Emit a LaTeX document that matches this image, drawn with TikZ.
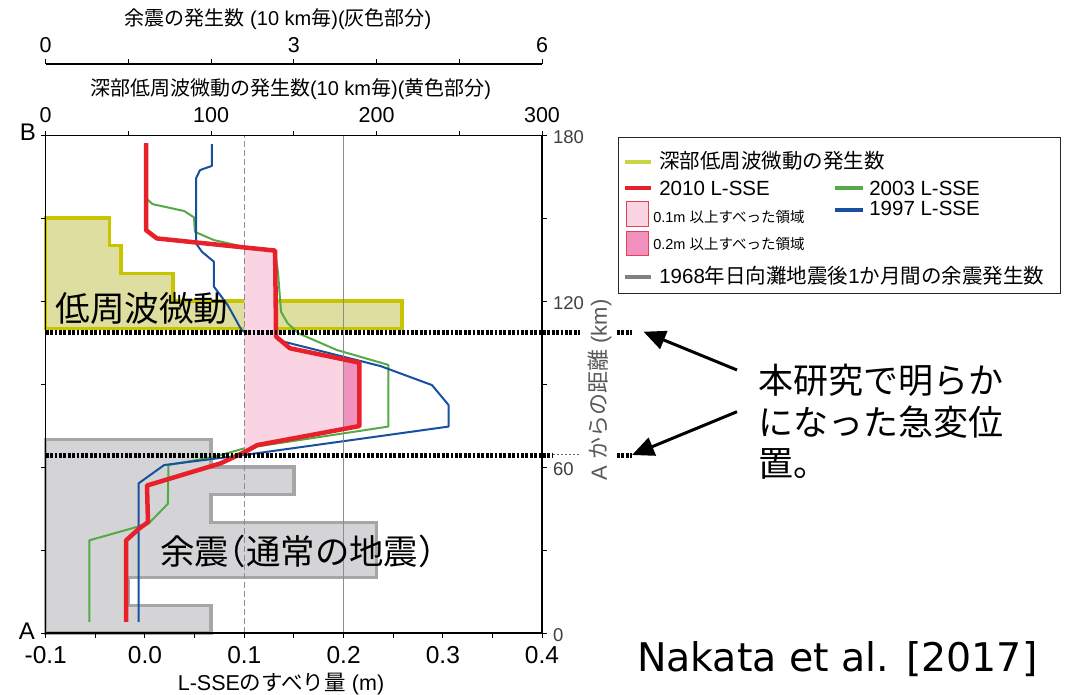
\documentclass[tikz,border=0pt]{standalone}
\usepackage{fontspec}
\setmainfont{Liberation Sans}
\newfontfamily\jp{Noto Sans CJK JP}
\newfontfamily\jph{Noto Sans CJK JP}[RawFeature=+halt]
\newfontfamily\dv{DejaVu Sans}
\usetikzlibrary{arrows.meta}
\newcommand\fsz[1]{\fontsize{#1}{#1}\selectfont}
\definecolor{cred}{HTML}{E8202A}
\definecolor{cgreen}{HTML}{55AA48}
\definecolor{cblue}{HTML}{1850A0}
\definecolor{yfillc}{HTML}{DEDEA0}
\definecolor{yedge}{HTML}{C8C400}
\definecolor{gfillc}{HTML}{D4D4D6}
\definecolor{gedge}{HTML}{A6A6A8}
\definecolor{pinkl}{HTML}{FBD4E4}
\definecolor{pinkd}{HTML}{F192BE}
\definecolor{legy}{HTML}{C8D646}
\definecolor{gridc}{HTML}{8C8C8C}
\definecolor{legred}{HTML}{E84050}
\begin{document}
\begin{tikzpicture}[x=1pt,y=-1pt,
  every node/.style={inner sep=0pt, outer sep=0pt},
  yhist/.style={fill=yfillc, draw=yedge, line width=3.5pt},
  ghist/.style={fill=gfillc, draw=gedge, line width=3.5pt},
  redl/.style={draw=cred, line width=4.5pt, line join=round},
  greenl/.style={draw=cgreen, line width=2pt, line join=round},
  bluel/.style={draw=cblue, line width=2pt, line join=round},
  gridd/.style={draw=gridc, line width=1pt, dash pattern=on 6pt off 3pt},
  grids/.style={draw=gridc, line width=1pt},
  blackdots/.style={draw=black, line width=4.5pt, dash pattern=on 2.8pt off 1.6pt},
  tickm/.style={draw=black, line width=1pt},
  frame/.style={draw=black, line width=1.5pt},
  axl/.style={font=\fsz{21.5}},
  botl/.style={font=\fsz{24.5}},
  rgtl/.style={font=\fsz{18.5}, text=black!75},
  ttl/.style={font=\fsz{20}},
  legt/.style={font=\fsz{20.5}, anchor=base west},
  legs/.style={font=\fsz{14.5}, anchor=base west},
  bigjp/.style={font=\jp\fsz{35}, anchor=base west},
  arr/.style={draw=black, line width=3pt, -{Triangle[length=22pt,width=19pt]}}
]
\useasboundingbox (0,0) rectangle (1068,695);
\fill[white] (0,0) rectangle (1068,695);

% ---------- data region ----------
\begin{scope}[shift={(145,633)},x=993pt,y=2.767pt]
  % yellow histogram (deep low-frequency tremor)
  \filldraw[yhist] (-0.1,150) -- (-0.036,150) -- (-0.036,140) -- (-0.024,140) -- (-0.024,130)
    -- (0.028,130) -- (0.028,120) -- (0.259,120) -- (0.259,110) -- (-0.1,110) -- cycle;
  % gray histogram (aftershocks)
  \filldraw[ghist] (-0.1,0) -- (0.0667,0) -- (0.0667,10) -- (-0.0167,10) -- (-0.0167,20)
    -- (0.2333,20) -- (0.2333,40) -- (0.0667,40) -- (0.0667,50) -- (0.15,50) -- (0.15,60)
    -- (0.0667,60) -- (0.0667,70) -- (-0.1,70) -- cycle;
  % 2003 L-SSE
  \draw[greenl] (0.0024,156.7) -- (0.0076,155) -- (0.0395,152.5) -- (0.0494,150.2) -- (0.0502,145)
    -- (0.0693,142) -- (0.0992,139.6) -- (0.131,138.5) -- (0.134,130) -- (0.137,116.1)
    -- (0.1435,112) -- (0.1546,108.3) -- (0.193,102.3) -- (0.245,96.9) -- (0.245,74.6)
    -- (0.0997,66.7) -- (0.070,63.7) -- (0.0236,60.7) -- (0.023,46.7) -- (0.0035,39.5)
    -- (-0.056,33.5) -- (-0.056,4);
  % 1997 L-SSE
  \draw[bluel] (0.0673,176.7) -- (0.0673,168.8) -- (0.0554,167.3) -- (0.0514,164.3) -- (0.0514,140.8)
    -- (0.0573,137.8) -- (0.0693,134.2) -- (0.0693,125.2) -- (0.0833,118.5) -- (0.0972,109.5)
    -- (0.0996,108.9) -- (0.2369,96.5) -- (0.289,89.6) -- (0.3057,82.4) -- (0.3057,74.6)
    -- (0.0992,64.3) -- (0.0193,60.7) -- (-0.0064,54.1) -- (-0.0064,4);
  % slip areas
  \fill[pinkl] (0.1,139.35) -- (0.131,138.2) -- (0.132,107.1) -- (0.146,102.9) -- (0.216,97.7)
    -- (0.216,74.8) -- (0.113,67.9) -- (0.101,65.5) -- (0.1,65.3) -- cycle;
  \fill[pinkd] (0.2,98.89) -- (0.216,97.7) -- (0.216,74.8) -- (0.2,73.73) -- cycle;
  % reference lines
  \draw[gridd] (0.1,0) -- (0.1,180);
  \draw[grids] (0.2,0) -- (0.2,180);
  % 2010 L-SSE
  \draw[redl] (0.001,177) -- (0.001,145.6) -- (0.012,142.6) -- (0.131,138.2) -- (0.132,107.1)
    -- (0.146,102.9) -- (0.216,97.7) -- (0.216,74.8) -- (0.113,67.9) -- (0.101,65.5)
    -- (0.076,61.3) -- (0.002,53.3) -- (0.003,40.1) -- (-0.006,37.7) -- (-0.019,33.5) -- (-0.019,4);
\end{scope}

% ---------- heavy dotted markers ----------
\draw[blackdots] (45.7,332.7) -- (580,332.7);
\draw[blackdots] (617,332.7) -- (632,332.7);
\draw[blackdots] (45.7,455.7) -- (553,455.7);
\draw[draw=black!60, line width=0.8pt, dash pattern=on 2pt off 2pt] (553,454) -- (580,454);
\draw[blackdots] (617,455.7) -- (632,455.7);

% ---------- frame and axes ----------
\draw[frame] (45.7,135.5) rectangle (542,633);
\draw[frame] (45.7,64) -- (542,64);
\foreach \i in {0,...,6} {
  \draw[tickm] ({45.7+\i*82.72},135.5) -- ++(0,-4.5);
  \draw[tickm] ({45.7+\i*82.72},64) -- ++(0,-4.5);
  \draw[tickm] (45.7,{633-\i*82.92}) -- ++(-4.5,0);
  \draw[tickm] (542,{633-\i*82.92}) -- ++(4.5,0);
}
\foreach \i in {0,...,10} {
  \draw[tickm] ({45.7+\i*49.63},633) -- ++(0,4.5);
}
% top axis 1 labels
\foreach \v/\xx [count=\k] in {0/45.7,3/293.85,6/542} {
  \node[axl, anchor=base] (ta\k) at (\xx,52.7) {\v};
}
% top axis 2 labels
\foreach \v/\xx [count=\k] in {0/45.7,100/211.1,200/376.6,300/542} {
  \node[axl, anchor=base] (tb\k) at (\xx,122.7) {\v};
}
% bottom labels
\foreach \v/\xx [count=\k] in {-0.1/45.7,0.0/145,0.1/244.3,0.2/343.6,0.3/442.9,0.4/542} {
  \node[botl, anchor=base] (bl\k) at (\xx,663.3) {\v};
}
% right labels
\foreach \v/\yy [count=\k] in {180/135.5,120/301.3,60/467.2,0/633} {
  \node[rgtl, anchor=base west] (rl\k) at (553,{\yy+8}) {\v};
}
\node[font=\fsz{24}, anchor=base] (lB) at (28,140.6) {B};
\node[font=\fsz{24}, anchor=base] (lA) at (27,639) {A};

% axis titles
\node[ttl, anchor=base] (tt1) at (278,25.7) {{\jp 余震の発生数} (10 km{\jp 毎})({\jp 灰色部分})};
\node[ttl, anchor=base] (tt2) at (290.6,95.7) {{\jp 深部低周波微動の発生数}(10 km{\jp 毎})({\jp 黄色部分})};
\node[font=\fsz{21.5}, anchor=base] (bt) at (281,690) {L-SSE{\jp のすべり量} (m)};
\node[font=\fsz{22}, text=black!65, rotate=90] (rt) at (600,390) {A {\jp からの距離} (km)};

% in-plot labels
\node[font=\jp\fsz{34.6}, anchor=base west] (lfe) at (55.5,321) {低周波微動};
\node[font=\jph\fsz{34.4}, anchor=base west] (aft) at (160.2,564) {余震（通常の地震）};

% ---------- legend ----------
\draw[draw=black!85, line width=1pt] (618,138) rectangle (1060,293);
\draw[draw=legy, line width=4pt] (625,161.7) -- (651,161.7);
\node[legt] (lg1) at (659.3,168.5) {\jp 深部低周波微動の発生数};
\draw[draw=cred, line width=4pt] (625,188.3) -- (651,188.3);
\node[legt] (lg2) at (659.3,195.2) {2010 L-SSE};
\draw[draw=cgreen, line width=4pt] (835,188.3) -- (863.3,188.3);
\node[legt] (lg3) at (869.3,195.2) {2003 L-SSE};
\draw[draw=cblue, line width=4pt] (835,210) -- (863.3,210);
\node[legt] (lg4) at (869.3,215) {1997 L-SSE};
\filldraw[fill=pinkl, draw=legred, line width=1pt] (626.7,201.7) rectangle (648.3,226.7);
\node[legs] (lg5) at (653.3,222.3) {0.1m {\jp 以上すべった領域}};
\filldraw[fill=pinkd, draw=legred, line width=1pt] (626.7,231.7) rectangle (648.3,255);
\node[legs] (lg6) at (653.3,249.3) {0.2m {\jp 以上すべった領域}};
\draw[draw=black!50, line width=4pt] (625,276.7) -- (651,276.7);
\node[legt] (lg7) at (659.3,283.5) {1968{\jp 年日向灘地震後}1{\jp か月間の余震発生数}};

% ---------- annotation ----------
\node[bigjp] (n1) at (758.3,393.3) {本研究で明らか};
\node[bigjp] (n2) at (758.3,435) {になった急変位};
\node[bigjp] (n3) at (758.3,476.6) {置。};
\coordinate (a1s) at (737,370);
\coordinate (a1e) at (643.5,331.7);
\coordinate (a2s) at (737,411.7);
\coordinate (a2e) at (632,455);
\draw[arr] (a1s) -- (a1e);
\draw[arr] (a2s) -- (a2e);
\node[font=\dv\fsz{39.5}, anchor=base west] (cite) at (637,671) {Nakata et al. [2017]};
\end{tikzpicture}
\end{document}
